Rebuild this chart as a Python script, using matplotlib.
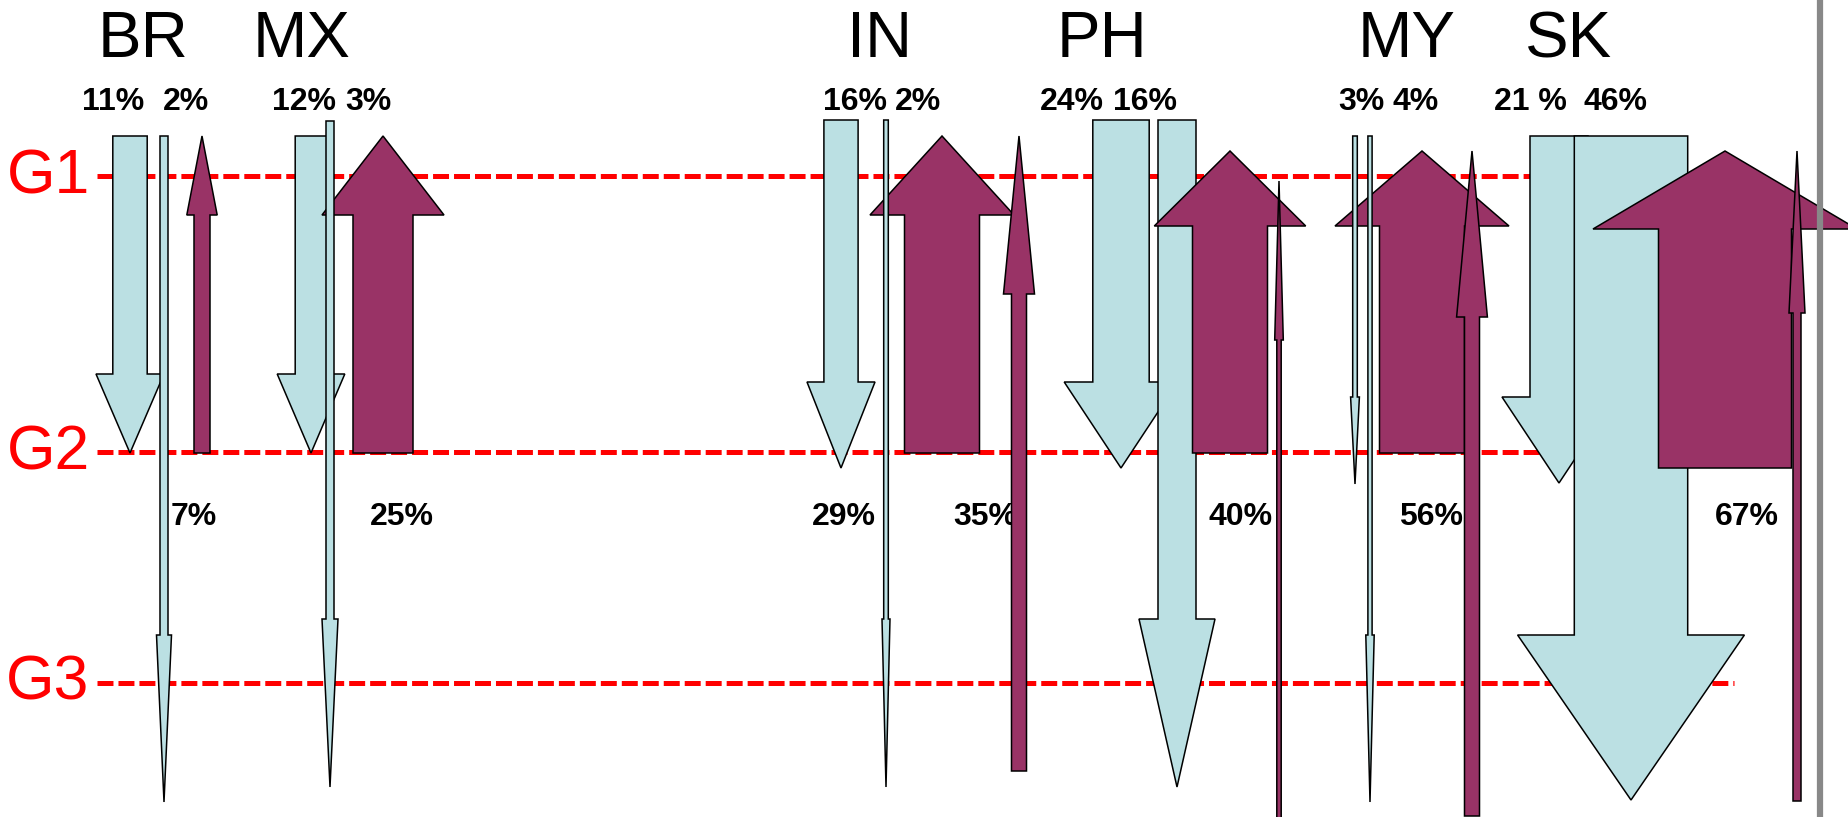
import matplotlib
matplotlib.use("Agg")
import matplotlib.pyplot as plt
from matplotlib.patches import Polygon

plt.rcParams["font.family"] = ["Liberation Sans", "DejaVu Sans"]
plt.rcParams["lines.scale_dashes"] = False

# --- texts / values ---
countries = ["BR", "MX", "IN", "PH", "MY", "SK"]
levels = ["G1", "G2", "G3"]
top_labels = ["11%", "2%", "12%", "3%", "16%", "2%", "24%", "16%", "3%", "4%", "21 %", "46%"]
bottom_labels = ["7%", "25%", "29%", "35%", "40%", "56%", "67%"]

# --- layout (pixel units of the 1849x817 canvas) ---
country_x = [143, 302, 880, 1102, 1407, 1569]
top_x = [113, 186, 304, 368, 855, 918, 1072, 1145, 1361, 1416, 1530, 1616]
bottom_x = [194, 402, 844, 985, 1241, 1431, 1747]
level_y = [176, 452, 683]

# down arrows (light blue): centre, tail y, tip y, shaft half width, head half width, head length, layer
down_x = [130, 164, 311, 330, 841, 886, 1121, 1177, 1355, 1370, 1559, 1631]
down_tail = [136, 136, 136, 121, 120, 120, 120, 120, 136, 136, 136, 136]
down_tip = [453, 802, 453, 787, 468, 787, 468, 787, 484, 802, 483, 800]
down_shaft = [17.2, 4, 15.8, 4, 17.1, 2.3, 28.2, 19, 2.3, 2.1, 29, 56.7]
down_head = [34, 7.5, 33.8, 8, 34, 4, 56.8, 38, 4.4, 4.2, 57, 113.4]
down_hlen = [79, 167, 79, 168, 86, 168, 86, 168, 87, 167, 86, 165]
down_z = [3, 5, 3, 5, 3, 5, 3, 3.1, 5, 5, 3, 3.1]

# up arrows (purple)
up_x = [202, 383, 942, 1019, 1230, 1279, 1422, 1472, 1725, 1797]
up_tail = [453, 453, 453, 771, 453, 830, 453, 816, 468, 801]
up_tip = [136, 136, 136, 136, 151, 181, 151, 151, 151, 151]
up_shaft = [8, 30, 37.5, 7.5, 37.5, 2.2, 42.5, 7.5, 66.5, 4]
up_head = [15.2, 61, 72, 15.5, 75.7, 4.3, 87, 15.4, 132, 8]
up_hlen = [79, 79, 79, 158, 75, 159, 75, 166, 78, 162]
up_z = [4, 4, 4, 6, 4, 6, 4, 6, 4, 6]

light_blue = "#BBE0E3"
purple = "#993366"


def arrow(ax, xc, tail, tip, shw, hhw, hlen, color, z):
    d = 1 if tip > tail else -1
    base = tip - d * hlen
    pts = [(xc - shw, tail), (xc + shw, tail), (xc + shw, base), (xc + hhw, base),
           (xc, tip), (xc - hhw, base), (xc - shw, base)]
    ax.add_patch(Polygon(pts, closed=True, facecolor=color, edgecolor="black",
                         linewidth=1.1, joinstyle="miter", zorder=z))


fig = plt.figure(figsize=(18.49, 8.17), dpi=100)
ax = fig.add_axes([0, 0, 1, 1])
ax.set_xlim(0, 1849)
ax.set_ylim(817, 0)
ax.axis("off")

for name, y in zip(levels, level_y):
    ax.plot([97, 1734], [y, y], color="red", linewidth=3.6,
            linestyle=(0, (11.5, 3.6)), zorder=1)
    ax.text(48, y + 17, name, color="red", fontsize=45, ha="center", va="baseline", zorder=2)

for name, x in zip(countries, country_x):
    ax.text(x, 57, name, fontsize=47, ha="center", va="baseline", zorder=2)

for lab, x in zip(top_labels, top_x):
    ax.text(x, 110, lab, fontsize=23, fontweight="bold", ha="center", va="baseline", zorder=2)

for lab, x in zip(bottom_labels, bottom_x):
    ax.text(x, 525, lab, fontsize=23, fontweight="bold", ha="center", va="baseline", zorder=2)

for i in range(len(down_x)):
    arrow(ax, down_x[i], down_tail[i], down_tip[i], down_shaft[i], down_head[i],
          down_hlen[i], light_blue, down_z[i])

for i in range(len(up_x)):
    arrow(ax, up_x[i], up_tail[i], up_tip[i], up_shaft[i], up_head[i],
          up_hlen[i], purple, up_z[i])

ax.axvline(1820, color="#888888", linewidth=4.5, zorder=7)

fig.savefig("out.png", dpi=100)
